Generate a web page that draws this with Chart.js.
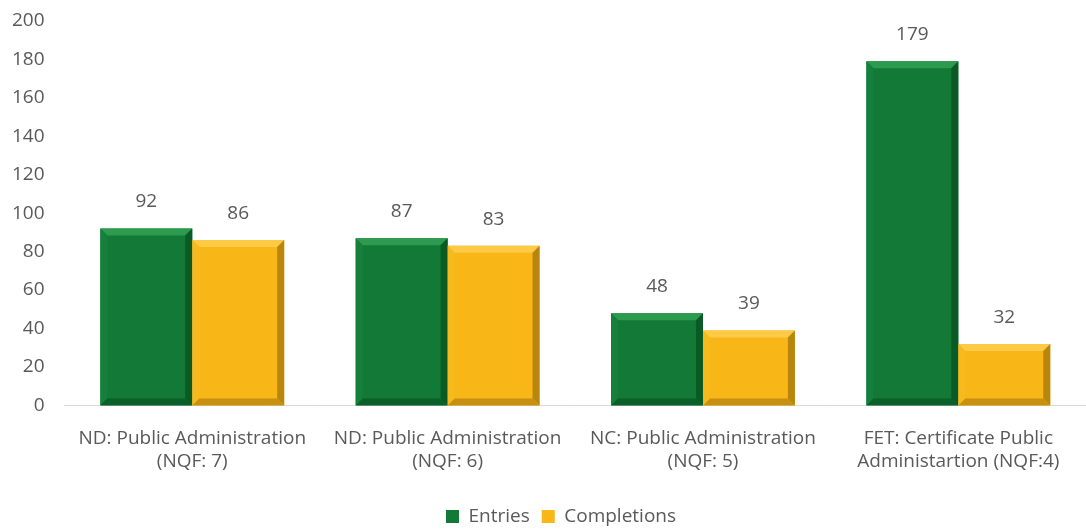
<!DOCTYPE html>
<html>
<head>
<meta charset="utf-8">
<script src="https://cdn.jsdelivr.net/npm/chart.js@4"></script>
<style>
  body { margin: 0; background: #fff; }
</style>
</head>
<body>
<canvas id="myChart" width="1086" height="530"></canvas>
<script>
var categories = [
  ["ND: Public Administration", "(NQF: 7)"],
  ["ND: Public Administration", "(NQF: 6)"],
  ["NC: Public Administration", "(NQF: 5)"],
  ["FET: Certificate Public", "Administartion (NQF:4)"]
];
var entries = [92, 87, 48, 179];
var completions = [86, 83, 39, 32];
var yTicks = [0, 20, 40, 60, 80, 100, 120, 140, 160, 180, 200];

var fontFamily = "'Open Sans', 'Liberation Sans', sans-serif";

// shading used for the bevelled bar edges
var shades = {
  Entries: { top: '#2c9a4f', left: '#14803b', right: '#0a5a26', bottom: '#0b5f29' },
  Completions: { top: '#fdca45', left: '#f7ba1e', right: '#b8860e', bottom: '#c79010' }
};

var bevelPlugin = {
  id: 'bevel',
  afterDatasetsDraw: function (chart) {
    var c = chart.ctx;
    chart.data.datasets.forEach(function (ds, i) {
      var s = shades[ds.label];
      chart.getDatasetMeta(i).data.forEach(function (bar) {
        var p = bar.getProps(['x', 'y', 'base', 'width'], true);
        var l = p.x - p.width / 2, r = p.x + p.width / 2, t = p.y, b = p.base;
        var d = 7;
        function poly(pts, col) {
          c.beginPath();
          c.moveTo(pts[0][0], pts[0][1]);
          for (var k = 1; k < pts.length; k++) c.lineTo(pts[k][0], pts[k][1]);
          c.closePath();
          c.fillStyle = col;
          c.fill();
        }
        c.save();
        poly([[l, t], [r, t], [r - d, t + d], [l + d, t + d]], s.top);
        poly([[l, t], [l + d, t + d], [l + d, b - d], [l, b]], s.left);
        poly([[r, t], [r, b], [r - d, b - d], [r - d, t + d]], s.right);
        poly([[l, b], [l + d, b - d], [r - d, b - d], [r, b]], s.bottom);
        c.restore();
      });
    });
  }
};

var valueLabels = {
  id: 'valueLabels',
  afterDatasetsDraw: function (chart) {
    var c = chart.ctx;
    c.save();
    c.font = '19px ' + fontFamily;
    c.fillStyle = '#595959';
    c.textAlign = 'center';
    c.textBaseline = 'bottom';
    chart.data.datasets.forEach(function (ds, i) {
      chart.getDatasetMeta(i).data.forEach(function (bar, j) {
        c.fillText(ds.data[j], bar.x, bar.y - 17);
      });
    });
    c.restore();
  }
};

// nudge the legend a little right of centre
var legendShift = {
  id: 'legendShift',
  afterLayout: function (chart) {
    chart.legend.left += 22;
    chart.legend.right += 22;
  }
};

var ctx = document.getElementById("myChart");

var myChart = new Chart(ctx, {
  type: 'bar',
  data: {
    labels: categories,
    datasets: [{
      label: 'Entries',
      data: entries,
      backgroundColor: '#127a36',
      categoryPercentage: 0.72,
      barPercentage: 1.0
    }, {
      label: 'Completions',
      data: completions,
      backgroundColor: '#f8b717',
      categoryPercentage: 0.72,
      barPercentage: 1.0
    }]
  },
  options: {
    responsive: false,
    animation: false,
    layout: { padding: { top: 0, right: 0, left: -8, bottom: -6 } },
    plugins: {
      legend: {
        position: 'bottom',
        labels: {
          boxWidth: 13,
          boxHeight: 13,
          padding: 12,
          color: '#595959',
          font: { family: fontFamily, size: 19 }
        }
      },
      tooltip: { enabled: false }
    },
    scales: {
      x: {
        grid: { display: false, drawTicks: false },
        border: { color: '#d9d9d9' },
        ticks: {
          color: '#595959',
          padding: 22,
          maxRotation: 0,
          font: { family: fontFamily, size: 19 }
        }
      },
      y: {
        min: 0,
        max: 200,
        afterBuildTicks: function (axis) {
          axis.ticks = yTicks.map(function (v) { return { value: v }; });
        },
        afterFit: function (axis) {
          axis.paddingTop = 21;
        },
        grid: { display: false, drawTicks: false },
        border: { display: false },
        ticks: {
          color: '#595959',
          padding: 20,
          font: { family: fontFamily, size: 19 }
        }
      }
    }
  },
  plugins: [bevelPlugin, valueLabels, legendShift]
});
</script>
</body>
</html>
